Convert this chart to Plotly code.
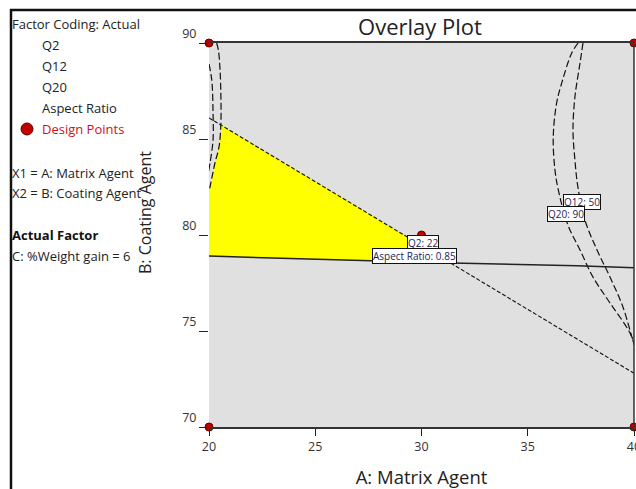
import plotly.graph_objects as go

W, H = 636, 489
L, R, T, B = 209, 2, 43, 62
PW, PH = W - L - R, H - T - B


def px(x):
    return (x - L) / PW


def py(y):
    return (H - B - y) / PH


# ---------------- data ----------------
x_ticks = [20, 25, 30, 35, 40]
y_ticks = [70, 75, 80, 85, 90]

design_A = [20, 40, 20, 40, 30]
design_B = [90, 90, 70, 70, 80]

# Q2 contour (straight dashed line)
q2_A = [20, 40]
q2_B = [86.1, 72.8]

# Aspect Ratio contour
aspect_A = [20, 31.44, 37.32, 40]
aspect_B = [78.9, 78.54, 78.40, 78.30]

# left-hand curved contours
left_outer_A = [20.36, 20.44, 20.52, 20.56, 20.56, 20.47, 20.28, 20.02]
left_outer_B = [90, 89.64, 88.59, 87.19, 85.83, 84.58, 83.75, 82.34]
left_inner_A = [20.0, 20.13, 20.19, 20.19, 20.05, 19.98]
left_inner_B = [88.9, 88.07, 86.35, 84.95, 83.75, 83.3]

# right-hand curved contours (Q20: 90 and Q12: 50)
q20_A = [37.37, 37.07, 36.60, 36.36, 36.20, 36.28, 36.44, 36.89, 37.46, 38.07, 38.87, 39.81, 40.05]
q20_B = [90, 89.48, 87.92, 86.88, 85.10, 83.39, 82.34, 80.52, 79.22, 77.81, 76.46, 74.90, 74.11]
q12_A = [37.60, 37.46, 37.22, 37.13, 37.22, 37.36, 37.69, 38.26, 38.87, 39.48, 39.95, 40.05]
q12_B = [90, 88.96, 87.19, 85.47, 83.91, 82.50, 80.78, 79.22, 77.81, 76.25, 74.53, 74.27]

# feasible (yellow) region
region_A = [20.6, 20.47, 20.28, 20.02, 20.0, 20.0, 31.36, 20.6]
region_B = [85.73, 84.58, 83.75, 82.34, 82.3, 78.9, 78.55, 85.73]

label_text = ["Q2: 22", "Aspect Ratio: 0.85", "Q12: 50", "Q20: 90"]
label_A = [30.05, 29.69, 37.55, 36.82]
label_B = [79.58, 78.91, 81.74, 81.12]

side_text = ["Factor Coding: Actual", "Q2", "Q12", "Q20", "Aspect Ratio", "Design Points",
             "X1 = A: Matrix Agent", "X2 = B: Coating Agent", "<b>Actual Factor</b>",
             "C: %Weight gain = 6"]
side_x = [10, 40, 40, 40, 40, 40, 10, 10, 10, 10]
side_y = [24, 45, 66, 87, 108, 129, 173, 193, 235, 256]
side_color = ["#222", "#222", "#222", "#222", "#222", "#d0101a", "#222", "#222", "#111", "#222"]

FONT = "Open Sans"

fig = go.Figure()

fig.add_trace(go.Scatter(x=region_A, y=region_B, mode="lines", fill="toself",
                         fillcolor="#ffff00", line=dict(width=0), hoverinfo="skip"))

dash_long = "7px,3px"
for xa, ya in [(left_outer_A, left_outer_B), (left_inner_A, left_inner_B),
               (q20_A, q20_B), (q12_A, q12_B)]:
    fig.add_trace(go.Scatter(x=xa, y=ya, mode="lines", line_shape="spline",
                             line=dict(color="#111", width=1.2, dash=dash_long)))

fig.add_trace(go.Scatter(x=q2_A, y=q2_B, mode="lines",
                         line=dict(color="#111", width=1.1, dash="4px,2px")))
fig.add_trace(go.Scatter(x=aspect_A, y=aspect_B, mode="lines",
                         line=dict(color="#222", width=1.5)))

fig.add_trace(go.Scatter(x=design_A, y=design_B, mode="markers", cliponaxis=False,
                         marker=dict(color="#c00000", size=8,
                                     line=dict(color="#600000", width=1))))

annotations = []
for t, a, b in zip(label_text, label_A, label_B):
    annotations.append(dict(x=a, y=b, xref="x", yref="y", text=t, showarrow=False,
                            font=dict(family=FONT, size=10, color="#1c1c5a"),
                            bgcolor="white", bordercolor="#111", borderwidth=1, borderpad=0))

for t, x, y, c in zip(side_text, side_x, side_y, side_color):
    annotations.append(dict(x=px(x), y=py(y), xref="paper", yref="paper", text=t,
                            showarrow=False, xanchor="left", yanchor="middle",
                            font=dict(family=FONT, size=13, color=c)))

annotations.append(dict(x=px(145), y=py(213), xref="paper", yref="paper",
                        xanchor="center", yanchor="middle",
                        text="B: Coating Agent", textangle=-90, showarrow=False,
                        font=dict(family=FONT, size=16, color="#222")))

shapes = [
    # right border of the plot area
    dict(type="line", xref="paper", yref="paper", x0=1, x1=1, y0=0, y1=1,
         line=dict(color="#333", width=1.5)),
    # outer frame (left and top)
    dict(type="line", xref="paper", yref="paper", x0=px(11), x1=px(11), y0=py(9), y1=py(H),
         line=dict(color="#111", width=2.5)),
    dict(type="line", xref="paper", yref="paper", x0=px(10), x1=px(W), y0=py(10), y1=py(10),
         line=dict(color="#111", width=2.5)),
    # legend marker for design points
    dict(type="circle", xref="paper", yref="paper", xsizemode="pixel", ysizemode="pixel",
         xanchor=px(27), yanchor=py(129), x0=-6, x1=6, y0=-6, y1=6,
         fillcolor="#c00000", line=dict(color="#600000", width=1)),
]

fig.update_layout(
    width=W, height=H,
    margin=dict(l=L, r=R, t=T, b=B, autoexpand=False),
    paper_bgcolor="white", plot_bgcolor="#e0e0e0",
    showlegend=False,
    title=dict(text="Overlay Plot", x=420 / W, xanchor="center", y=1 - 27 / H,
               yanchor="middle", font=dict(family=FONT, size=22, color="#222")),
    font=dict(family=FONT),
    annotations=annotations,
    shapes=shapes,
)

fig.update_xaxes(range=[20, 40], tickvals=x_ticks, ticktext=[str(v) for v in x_ticks],
                 showgrid=False, zeroline=False, showline=True, mirror=True, automargin=False,
                 linecolor="#333", linewidth=1.5, ticks="outside", ticklen=7,
                 ticklabeloverflow="allow",
                 tickcolor="#222", tickfont=dict(family=FONT, size=12.5, color="#333"),
                 title=dict(text="A: Matrix Agent", font=dict(family=FONT, size=18.5, color="#222"),
                            standoff=19))
fig.update_yaxes(range=[70, 90], tickvals=y_ticks, ticktext=[str(v) for v in y_ticks],
                 showgrid=False, zeroline=False, showline=False, automargin=False,
                 ticks="outside", ticklen=9, tickcolor="#222", ticklabelshift=-9,
                 tickfont=dict(family=FONT, size=12.5, color="#333"))

fig.write_html("out.html", config={"displayModeBar": False},
               post_script="document.body.style.margin='0';")
